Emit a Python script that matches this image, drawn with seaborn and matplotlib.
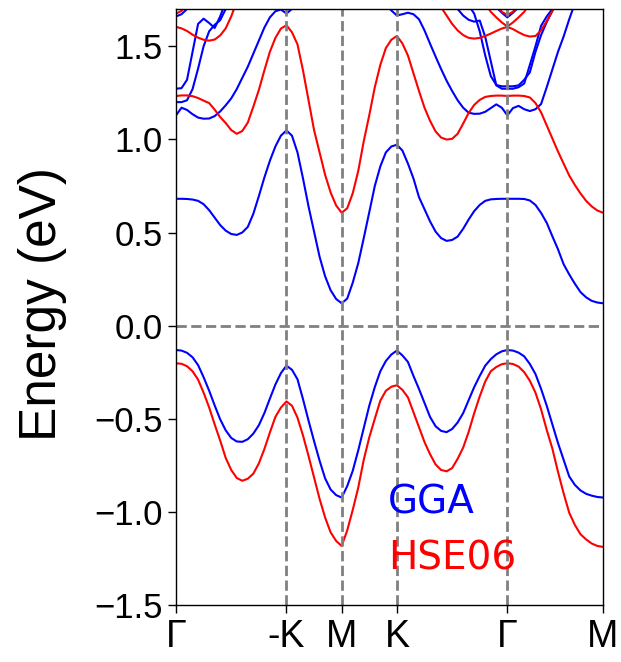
import numpy as np
import pandas as pd
import matplotlib
matplotlib.use("Agg")
import matplotlib.pyplot as plt
import seaborn as sns

# ---------------------------------------------------------------
# k-path  Γ → -K → M → K → Γ → M  (lengths in units of |ΓM|)
# ---------------------------------------------------------------
path_labels = ["Γ", "-K", "M", "K", "Γ", "M"]
seg_lengths = [2 / np.sqrt(3), 1 / np.sqrt(3), 1 / np.sqrt(3), 2 / np.sqrt(3), 1.0]
seg_points = [20, 10, 10, 20, 17]

node_pos = np.concatenate([[0.0], np.cumsum(seg_lengths)])
kpath = [node_pos[0]]
for a, b, n in zip(node_pos[:-1], node_pos[1:], seg_points):
    kpath.extend(np.linspace(a, b, n + 1)[1:])
kpath = np.array(kpath)

# ---------------------------------------------------------------
# Band energies (eV) sampled along the path, per method
# ---------------------------------------------------------------
gga_vb = [
    -0.131, -0.134, -0.146, -0.170, -0.212, -0.277, -0.349, -0.428, -0.503, -0.562,
    -0.603, -0.622, -0.624, -0.610, -0.580, -0.535, -0.470, -0.392, -0.316, -0.255, -0.215,
    -0.237, -0.288, -0.395, -0.510, -0.620, -0.725, -0.820, -0.880, -0.910, -0.923,
    -0.862, -0.780, -0.670, -0.550, -0.430, -0.330, -0.245, -0.190, -0.155, -0.134,
    -0.160, -0.195, -0.270, -0.340, -0.415, -0.490, -0.540, -0.565, -0.572, -0.555,
    -0.520, -0.470, -0.400, -0.330, -0.270, -0.215, -0.180, -0.154, -0.138, -0.131,
    -0.134, -0.145, -0.165, -0.206, -0.260, -0.340, -0.430, -0.530, -0.630, -0.720,
    -0.810, -0.855, -0.885, -0.903, -0.913, -0.920, -0.923,
]
gga_cb1 = [
    0.681, 0.681, 0.680, 0.677, 0.670, 0.652, 0.620, 0.580, 0.540, 0.510,
    0.492, 0.487, 0.500, 0.530, 0.600, 0.695, 0.795, 0.885, 0.962, 1.020, 1.048,
    1.020, 0.930, 0.790, 0.640, 0.505, 0.370, 0.265, 0.190, 0.143, 0.120,
    0.145, 0.230, 0.335, 0.470, 0.609, 0.750, 0.855, 0.930, 0.962, 0.971,
    0.940, 0.870, 0.790, 0.690, 0.625, 0.560, 0.505, 0.470, 0.455, 0.460,
    0.478, 0.520, 0.570, 0.615, 0.648, 0.670, 0.678, 0.680, 0.681, 0.681,
    0.681, 0.681, 0.680, 0.672, 0.648, 0.605, 0.552, 0.480, 0.410, 0.330,
    0.275, 0.225, 0.180, 0.152, 0.133, 0.124, 0.120,
]
gga_cb2 = [
    1.129, 1.170, 1.158, 1.135, 1.117, 1.111, 1.112, 1.125, 1.150, 1.183,
    1.220, 1.270, 1.330, 1.390, 1.460, 1.530, 1.600, 1.655, 1.688, 1.697, 1.676,
    1.700, 1.760, 1.820, 1.880, 1.920, 1.950, 1.960, 1.960, 1.950, 1.940,
    1.930, 1.920, 1.900, 1.880, 1.850, 1.820, 1.780, 1.725, 1.692, 1.665,
    1.672, 1.680, 1.672, 1.645, 1.585, 1.514, 1.445, 1.378, 1.315, 1.260,
    1.210, 1.170, 1.143, 1.137, 1.138, 1.148, 1.168, 1.188, 1.170, 1.129,
    1.168, 1.180, 1.162, 1.152, 1.162, 1.190, 1.280, 1.375, 1.470, 1.552,
    1.645, 1.730, 1.800, 1.870, 1.930, 1.970, 2.000,
]
gga_cb3 = [
    1.272, 1.275, 1.320, 1.470, 1.620, 1.648, 1.625, 1.598, 1.660, 1.740,
    1.800, 1.850, 1.900, 1.930, 1.950, 1.960, 1.970, 1.980, 1.990, 2.000, 2.000,
    2.000, 2.000, 2.000, 2.000, 2.000, 2.000, 2.000, 2.000, 2.000, 2.000,
    2.000, 2.000, 2.000, 2.000, 2.000, 2.000, 2.000, 2.000, 2.000, 2.000,
    2.000, 2.000, 1.950, 1.900, 1.850, 1.820, 1.790, 1.770, 1.760, 1.740,
    1.700, 1.665, 1.642, 1.632, 1.638, 1.550, 1.420, 1.290, 1.272, 1.272,
    1.272, 1.280, 1.300, 1.400, 1.500, 1.610, 1.660, 1.700, 1.760, 1.850,
    1.900, 1.950, 2.000, 2.000, 2.000, 2.000, 2.000,
]
gga_cb4 = [
    1.200, 1.200, 1.210, 1.270, 1.380, 1.500, 1.580, 1.615, 1.640, 1.700,
    1.780, 1.850, 1.900, 1.950, 2.000, 2.000, 2.000, 2.000, 2.000, 2.000, 2.000,
    2.000, 2.000, 2.000, 2.000, 2.000, 2.000, 2.000, 2.000, 2.000, 2.000,
    2.000, 2.000, 2.000, 2.000, 2.000, 2.000, 2.000, 2.000, 2.000, 2.000,
    2.000, 2.000, 2.000, 2.000, 2.000, 2.000, 2.000, 1.950, 1.900, 1.850,
    1.800, 1.760, 1.720, 1.675, 1.580, 1.450, 1.340, 1.292, 1.285, 1.285,
    1.285, 1.290, 1.320, 1.360, 1.470, 1.560, 1.630, 1.690, 1.750, 1.850,
    1.900, 1.950, 2.000, 2.000, 2.000, 2.000, 2.000,
]
gga_cb5 = [
    1.660, 1.672, 1.700, 1.760, 1.850, 1.950, 2.000, 2.000, 2.000, 2.000,
    2.000, 2.000, 2.000, 2.000, 2.000, 2.000, 2.000, 2.000, 2.000, 2.000, 2.000,
    2.000, 2.000, 2.000, 2.000, 2.000, 2.000, 2.000, 2.000, 2.000, 2.000,
    2.000, 2.000, 2.000, 2.000, 2.000, 2.000, 2.000, 2.000, 2.000, 2.000,
    2.000, 2.000, 2.000, 2.000, 2.000, 2.000, 2.000, 2.000, 2.000, 2.000,
    2.000, 2.000, 2.000, 1.950, 1.850, 1.800, 1.760, 1.710, 1.680, 1.655,
    1.680, 1.710, 1.760, 1.850, 1.950, 2.000, 2.000, 2.000, 2.000, 2.000,
    2.000, 2.000, 2.000, 2.000, 2.000, 2.000, 2.000,
]

hse_vb = [
    -0.202, -0.205, -0.218, -0.245, -0.290, -0.360, -0.439, -0.530, -0.617, -0.710,
    -0.775, -0.818, -0.833, -0.822, -0.795, -0.740, -0.663, -0.574, -0.490, -0.440, -0.407,
    -0.430, -0.494, -0.590, -0.700, -0.815, -0.930, -1.030, -1.110, -1.156, -1.183,
    -1.100, -0.990, -0.870, -0.720, -0.600, -0.500, -0.403, -0.350, -0.328, -0.320,
    -0.345, -0.385, -0.465, -0.545, -0.625, -0.690, -0.745, -0.775, -0.782, -0.765,
    -0.715, -0.655, -0.570, -0.470, -0.380, -0.300, -0.245, -0.222, -0.207, -0.202,
    -0.206, -0.220, -0.250, -0.296, -0.360, -0.450, -0.560, -0.660, -0.785, -0.900,
    -1.005, -1.070, -1.120, -1.148, -1.170, -1.183, -1.188,
]
hse_cb1 = [
    1.233, 1.236, 1.236, 1.232, 1.222, 1.208, 1.195, 1.160, 1.120, 1.088,
    1.050, 1.030, 1.045, 1.090, 1.175, 1.265, 1.370, 1.470, 1.545, 1.595, 1.613,
    1.575, 1.510, 1.370, 1.210, 1.050, 0.930, 0.810, 0.715, 0.645, 0.606,
    0.630, 0.710, 0.830, 0.990, 1.130, 1.280, 1.400, 1.490, 1.535, 1.555,
    1.515, 1.450, 1.355, 1.260, 1.170, 1.100, 1.043, 1.010, 0.999, 1.003,
    1.030, 1.085, 1.142, 1.185, 1.212, 1.228, 1.233, 1.235, 1.235, 1.233,
    1.235, 1.235, 1.233, 1.225, 1.195, 1.145, 1.075, 1.005, 0.935, 0.870,
    0.806, 0.755, 0.710, 0.670, 0.640, 0.618, 0.606,
]
hse_cb2 = [
    1.604, 1.596, 1.582, 1.562, 1.546, 1.535, 1.530, 1.536, 1.558, 1.596,
    1.660, 1.740, 1.800, 1.850, 1.900, 1.950, 2.000, 2.000, 2.000, 2.000, 2.000,
    2.000, 2.000, 2.000, 2.000, 2.000, 2.000, 2.000, 2.000, 2.000, 2.000,
    2.000, 2.000, 2.000, 2.000, 2.000, 2.000, 2.000, 2.000, 2.000, 2.000,
    2.000, 2.000, 1.950, 1.900, 1.850, 1.800, 1.760, 1.710, 1.665, 1.620,
    1.585, 1.560, 1.545, 1.541, 1.545, 1.555, 1.568, 1.582, 1.595, 1.604,
    1.592, 1.575, 1.560, 1.552, 1.555, 1.585, 1.635, 1.690, 1.750, 1.800,
    1.850, 1.900, 1.950, 2.000, 2.000, 2.000, 2.000,
]
hse_cb3 = [
    1.675, 1.690, 1.730, 1.800, 1.900, 2.000, 2.000, 2.000, 2.000, 2.000,
    2.000, 2.000, 2.000, 2.000, 2.000, 2.000, 2.000, 2.000, 2.000, 2.000, 2.000,
    2.000, 2.000, 2.000, 2.000, 2.000, 2.000, 2.000, 2.000, 2.000, 2.000,
    2.000, 2.000, 2.000, 2.000, 2.000, 2.000, 2.000, 2.000, 2.000, 2.000,
    2.000, 2.000, 2.000, 2.000, 2.000, 2.000, 2.000, 2.000, 2.000, 2.000,
    2.000, 2.000, 1.950, 1.850, 1.780, 1.730, 1.685, 1.655, 1.628, 1.606,
    1.628, 1.655, 1.685, 1.730, 1.780, 1.850, 1.950, 2.000, 2.000, 2.000,
    2.000, 2.000, 2.000, 2.000, 2.000, 2.000, 2.000,
]
hse_cb4 = [
    2.000, 2.000, 2.000, 2.000, 2.000, 2.000, 2.000, 2.000, 2.000, 2.000,
    2.000, 2.000, 2.000, 2.000, 2.000, 2.000, 2.000, 2.000, 2.000, 2.000, 2.000,
    2.000, 2.000, 2.000, 2.000, 2.000, 2.000, 2.000, 2.000, 2.000, 2.000,
    2.000, 2.000, 2.000, 2.000, 2.000, 2.000, 2.000, 2.000, 2.000, 2.000,
    2.000, 2.000, 2.000, 2.000, 2.000, 2.000, 2.000, 2.000, 2.000, 2.000,
    2.000, 2.000, 2.000, 2.000, 1.900, 1.800, 1.760, 1.720, 1.685, 1.668,
    1.685, 1.720, 1.760, 1.800, 1.900, 2.000, 2.000, 2.000, 2.000, 2.000,
    2.000, 2.000, 2.000, 2.000, 2.000, 2.000, 2.000,
]

bands = {
    ("GGA", "vb"): gga_vb, ("GGA", "cb1"): gga_cb1, ("GGA", "cb2"): gga_cb2,
    ("GGA", "cb3"): gga_cb3, ("GGA", "cb4"): gga_cb4, ("GGA", "cb5"): gga_cb5,
    ("HSE06", "vb"): hse_vb, ("HSE06", "cb1"): hse_cb1, ("HSE06", "cb2"): hse_cb2,
    ("HSE06", "cb3"): hse_cb3, ("HSE06", "cb4"): hse_cb4,
}

frames = []
for (method, name), energies in bands.items():
    frames.append(pd.DataFrame({
        "k": kpath, "E": energies,
        "method": method, "band": f"{method}-{name}",
    }))
df = pd.concat(frames, ignore_index=True)

# ---------------------------------------------------------------
# Plot
# ---------------------------------------------------------------
sns.set_style("ticks")
plt.rcParams["font.family"] = ["Liberation Sans", "DejaVu Sans"]
plt.rcParams["axes.unicode_minus"] = True

fig = plt.figure(figsize=(6.21, 6.62), dpi=100)
ax = fig.add_axes([0.2834, 0.0861, 0.6876, 0.9003])

sns.lineplot(data=df, x="k", y="E", hue="method", units="band",
             estimator=None, sort=False, legend=False,
             palette={"GGA": "blue", "HSE06": "red"}, linewidth=1.5, ax=ax)

for x in node_pos[1:-1]:
    ax.axvline(x, color="gray", linestyle="--", linewidth=2)
ax.axhline(0.0, color="gray", linestyle="--", linewidth=2)

ax.set_xlim(node_pos[0], node_pos[-1])
ax.set_ylim(-1.5, 1.7)
ax.set_xticks(node_pos)
ax.set_xticklabels(path_labels)
ax.set_yticks(np.arange(-1.5, 1.51, 0.5))
ax.set_xlabel("")
ax.set_ylabel("Energy (eV)", fontsize=37, color="black")
ax.yaxis.set_label_coords(-0.255, 0.505)
ax.tick_params(axis="both", direction="out", length=6, width=1, colors="black")
ax.tick_params(axis="y", labelsize=25)
ax.tick_params(axis="x", labelsize=27, pad=4)
for sp in ax.spines.values():
    sp.set_linewidth(1.0)
    sp.set_color("black")

ax.text(0.497, 0.154, "GGA", color="blue", fontsize=28, family="DejaVu Sans",
        transform=ax.transAxes, ha="left", va="baseline")
ax.text(0.497, 0.060, "HSE06", color="red", fontsize=28, family="DejaVu Sans",
        transform=ax.transAxes, ha="left", va="baseline")

fig.savefig("out.png", dpi=100)
